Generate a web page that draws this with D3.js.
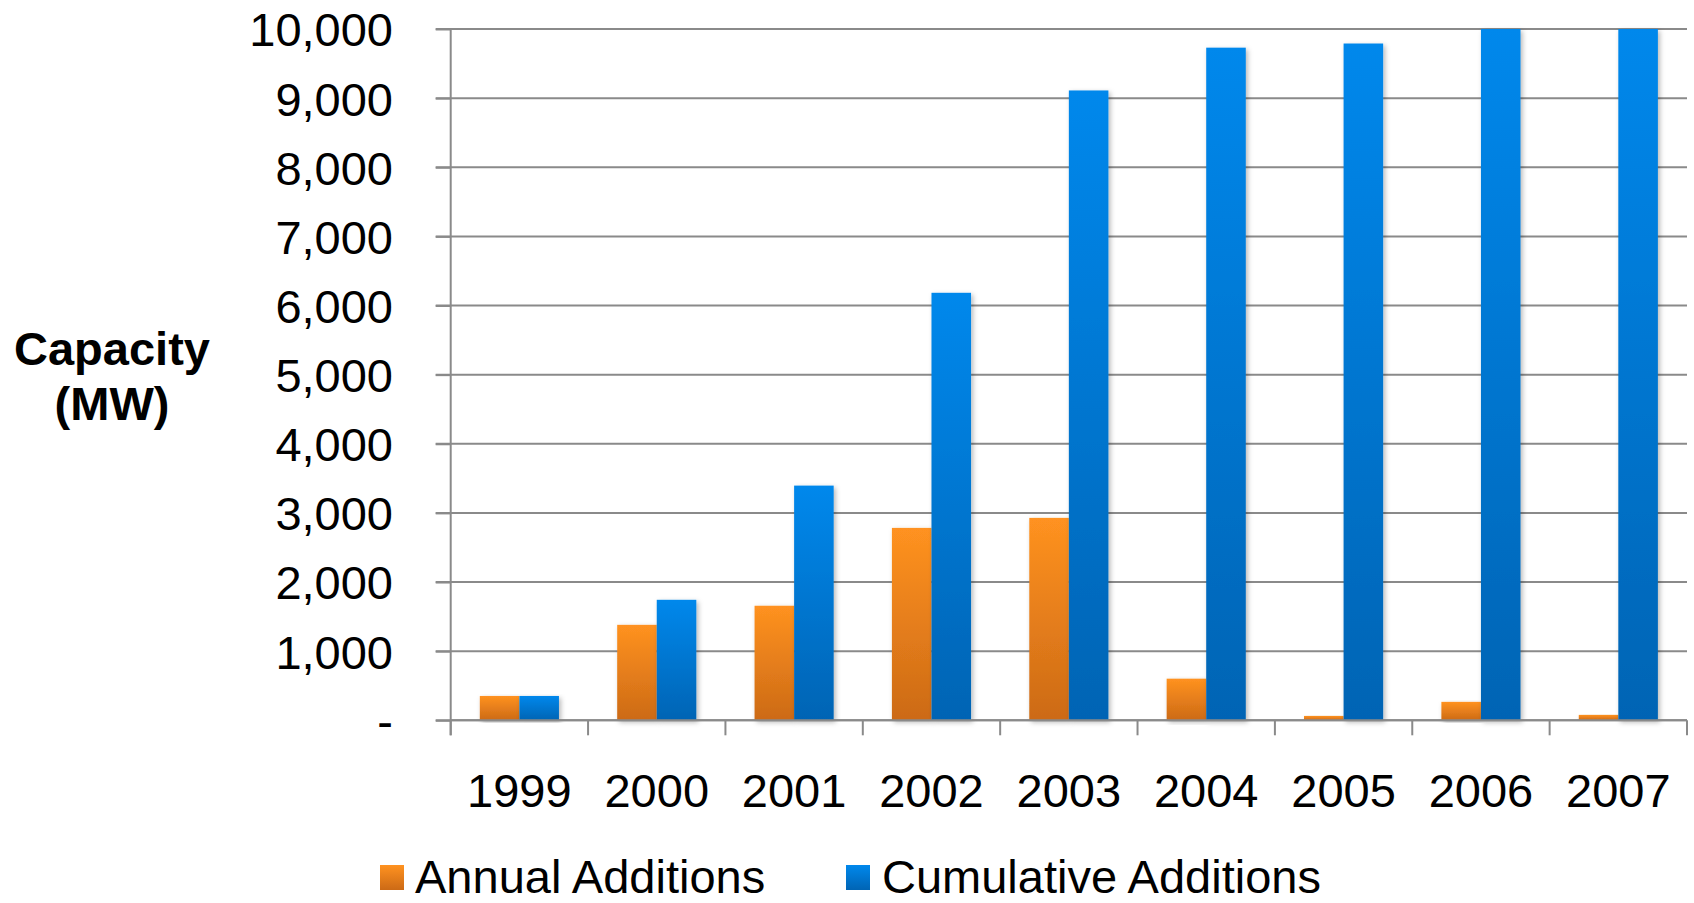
<!DOCTYPE html>
<html>
<head>
<meta charset="utf-8">
<script src="https://cdn.jsdelivr.net/npm/d3@7"></script>
<style>
  html, body { margin: 0; padding: 0; background: #fff; }
  svg { display: block; font-family: "Liberation Sans", Arial, sans-serif; }
</style>
</head>
<body>
<svg id="chart" width="1694" height="903"></svg>
<script>
// ---- data ----
const years = ["1999", "2000", "2001", "2002", "2003", "2004", "2005", "2006", "2007"];
const seriesNames = ["Annual Additions", "Cumulative Additions"];
const annualAdditions = [352, 1381, 1657, 2783, 2928, 602, 63, 267, 78];
const cumulativeAdditions = [352, 1743, 3395, 6184, 9111, 9730, 9790, 10057, 10135];
const yTickValues = [0, 1000, 2000, 3000, 4000, 5000, 6000, 7000, 8000, 9000, 10000];
const yTickLabels = ["-", "1,000", "2,000", "3,000", "4,000", "5,000", "6,000", "7,000", "8,000", "9,000", "10,000"];
const yTitleLines = ["Capacity", "(MW)"];

(function () {
// ---- layout ----
const svg = d3.select("#chart");
const pLeft = 450.7, pRight = 1687, pTop = 29, pBottom = 720.3;
const gridColor = "#8a8a8a";
const fontSize = 47;

const x0 = d3.scaleBand().domain(years).range([pLeft, pRight]).paddingInner(0).paddingOuter(0);
const x1 = d3.scaleBand().domain(seriesNames).range([0, x0.bandwidth()]).paddingInner(0).paddingOuter(0.736);
const y = d3.scaleLinear().domain([0, 10000]).range([pBottom, pTop]).clamp(true);

// gradients & shadow
const defs = svg.append("defs");
const grads = [
  { id: "gOrange", c1: "#ff9220", c2: "#cc6a16" },
  { id: "gBlue", c1: "#0088ec", c2: "#0064b4" }
];
grads.forEach(g => {
  const lg = defs.append("linearGradient").attr("id", g.id).attr("x1", 0).attr("y1", 0).attr("x2", 0).attr("y2", 1);
  lg.append("stop").attr("offset", "0%").attr("stop-color", g.c1);
  lg.append("stop").attr("offset", "100%").attr("stop-color", g.c2);
});
const f = defs.append("filter").attr("id", "shadow").attr("x", "-20%").attr("y", "-5%").attr("width", "150%").attr("height", "115%");
f.append("feDropShadow").attr("dx", 2).attr("dy", 2).attr("stdDeviation", 2.5).attr("flood-color", "#000").attr("flood-opacity", 0.28);

// gridlines
svg.append("g").selectAll("line").data(yTickValues).join("line")
  .attr("x1", pLeft - 15).attr("x2", pRight)
  .attr("y1", d => y(d)).attr("y2", d => y(d))
  .attr("stroke", gridColor).attr("stroke-width", 2);

// y axis
const yAxis = d3.axisLeft(y).tickValues(yTickValues).tickSize(15).tickPadding(42.7)
  .tickFormat((d, i) => yTickLabels[i]);
const gy = svg.append("g").attr("transform", `translate(${pLeft},0)`).call(yAxis);
gy.select(".domain").remove();
gy.selectAll(".tick line").attr("stroke", gridColor).attr("stroke-width", 2);
gy.selectAll(".tick text").attr("font-size", fontSize).attr("fill", "#000").attr("dy", "0.36em")
  .attr("font-family", "'Liberation Sans', Arial, sans-serif");
// vertical axis line
svg.append("line").attr("x1", pLeft).attr("x2", pLeft).attr("y1", pTop).attr("y2", pBottom + 15)
  .attr("stroke", gridColor).attr("stroke-width", 2);

// bars
const seriesData = [annualAdditions, cumulativeAdditions];
const fills = ["url(#gOrange)", "url(#gBlue)"];
const groups = svg.append("g").selectAll("g").data(years).join("g")
  .attr("transform", d => `translate(${x0(d)},0)`);
groups.selectAll("rect").data((d, i) => seriesNames.map((s, k) => ({ s, v: seriesData[k][i], k })))
  .join("rect")
  .attr("x", d => x1(d.s))
  .attr("width", x1.bandwidth())
  .attr("y", d => y(d.v))
  .attr("height", d => y(0) - y(d.v))
  .attr("fill", d => fills[d.k])
  .attr("filter", "url(#shadow)");

// x axis line + ticks
svg.append("line").attr("x1", pLeft).attr("x2", pRight).attr("y1", pBottom).attr("y2", pBottom)
  .attr("stroke", gridColor).attr("stroke-width", 2);
const boundaries = years.map(d => x0(d)).concat([x0(years[years.length - 1]) + x0.bandwidth()]);
svg.append("g").selectAll("line").data(boundaries).join("line")
  .attr("x1", d => d).attr("x2", d => d)
  .attr("y1", pBottom).attr("y2", pBottom + 15)
  .attr("stroke", gridColor).attr("stroke-width", 2);

// x labels
svg.append("g").selectAll("text").data(years).join("text")
  .attr("x", d => x0(d) + x0.bandwidth() / 2)
  .attr("y", 807)
  .attr("text-anchor", "middle")
  .attr("font-size", fontSize)
  .attr("fill", "#000")
  .text(d => d);

// y title
svg.append("g").selectAll("text").data(yTitleLines).join("text")
  .attr("x", 112)
  .attr("y", (d, i) => 365 + i * 55)
  .attr("text-anchor", "middle")
  .attr("font-size", fontSize)
  .attr("font-weight", "bold")
  .attr("fill", "#000")
  .text(d => d);

// legend
const legendPos = [{ sx: 380, tx: 415 }, { sx: 846, tx: 882 }];
const lgd = svg.append("g").selectAll("g").data(seriesNames).join("g");
lgd.append("rect")
  .attr("x", (d, i) => legendPos[i].sx).attr("y", 865)
  .attr("width", 24).attr("height", 25)
  .attr("fill", (d, i) => fills[i]);
lgd.append("text")
  .attr("x", (d, i) => legendPos[i].tx).attr("y", 893)
  .attr("font-size", fontSize).attr("fill", "#000")
  .text(d => d);
})();
</script>
</body>
</html>
